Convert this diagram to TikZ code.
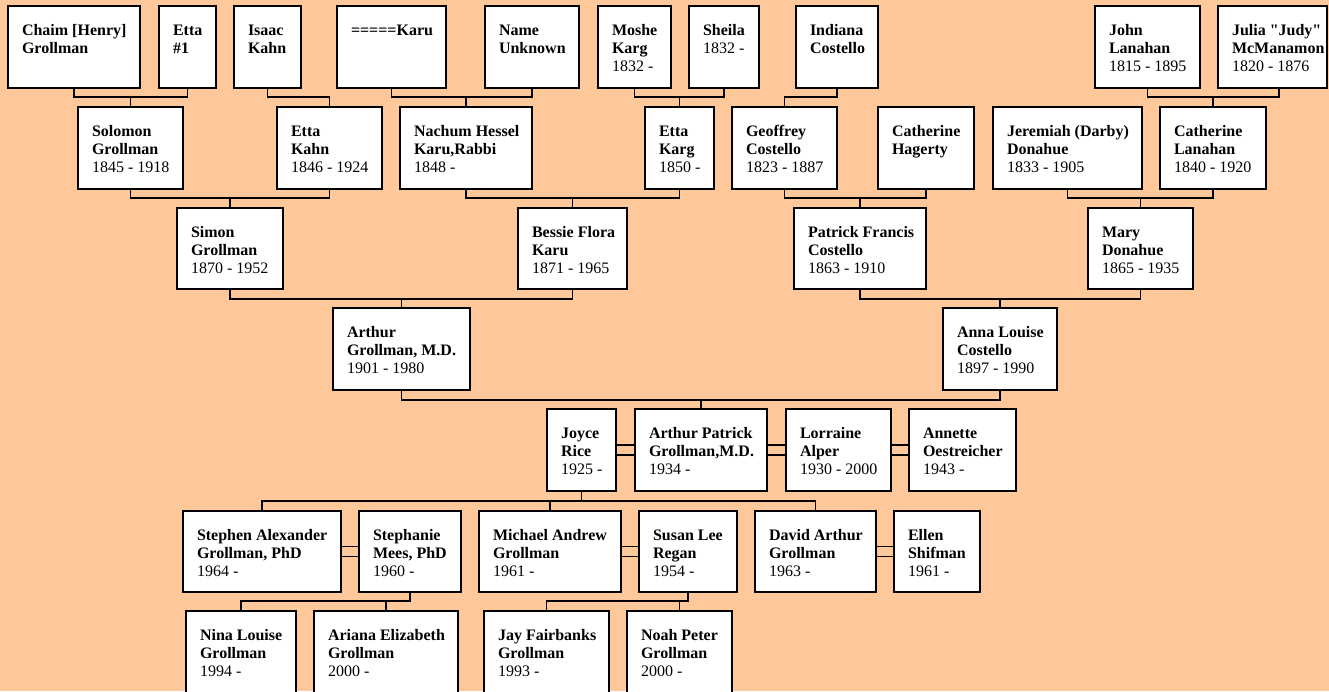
\documentclass[tikz,border=0pt]{standalone}
\usepackage{fontspec}
\setmainfont{Liberation Serif}[Ligatures=TeXOff]
\definecolor{peach}{RGB}{255,200,155}
\tikzset{
  pbox/.style={draw=black, fill=white, line width=2pt, inner sep=0pt, outer sep=0pt},
  ptext/.style={inner sep=0pt, outer sep=0pt, font=\fontsize{16}{18}\selectfont},
  conn/.style={draw=black, line width=1.8pt},
}
\newcommand\ptlines[3]{\vtop{\baselineskip=18pt\hbox{\textbf{#1}}\hbox{\textbf{#2}}\hbox{#3}}}
\newcommand\person[8]{%
  \node[pbox, minimum width={#4-#2}, minimum height={#5-#3}, anchor=north west] (#1) at (#2,#3) {};
  \node[ptext, anchor=base west] (#1-t) at ([xshift=14pt,yshift=-29.5pt]#1.north west) {\ptlines{#6}{#7}{#8}};
}
\begin{document}
\begin{tikzpicture}[x=1pt,y=-1pt]
\useasboundingbox (0,0) rectangle (1329,691);
\fill[peach] (0,0) rectangle (1329,691);
\clip (0,0) rectangle (1329,691);
% generation 1
\person{chaim}{8}{6}{140}{88}{Chaim [Henry]}{Grollman}{}
\person{etta1}{159}{6}{216}{88}{Etta}{\#1}{}
\person{isaac}{234}{6}{301}{88}{Isaac}{Kahn}{}
\person{karu}{337}{6}{446}{88}{=====Karu}{}{}
\person{nameunk}{485}{6}{579}{88}{Name}{Unknown}{}
\person{moshe}{598}{6}{671}{88}{Moshe}{Karg}{1832 -}
\person{sheila}{689}{6}{759}{88}{Sheila}{}{}
\node[ptext, anchor=base west] (sheila-y) at ([xshift=14pt,yshift=-47.5pt]sheila.north west) {1832 -};
\person{indiana}{796}{6}{878}{88}{Indiana}{Costello}{}
\person{john}{1095}{6}{1200}{88}{John}{Lanahan}{1815 - 1895}
\person{julia}{1218}{6}{1327}{88}{Julia "Judy"}{McManamon}{1820 - 1876}
% generation 2
\person{solomon}{78}{107}{183}{189}{Solomon}{Grollman}{1845 - 1918}
\person{ettakahn}{277}{107}{382}{189}{Etta}{Kahn}{1846 - 1924}
\person{nachum}{400}{107}{532}{189}{Nachum Hessel}{Karu,Rabbi}{1848 -}
\person{ettakarg}{645}{107}{714}{189}{Etta}{Karg}{1850 -}
\person{geoffrey}{732}{107}{837}{189}{Geoffrey}{Costello}{1823 - 1887}
\person{hagerty}{878}{107}{974}{189}{Catherine}{Hagerty}{}
\person{jeremiah}{993}{107}{1142}{189}{Jeremiah (Darby)}{Donahue}{1833 - 1905}
\person{cathlan}{1160}{107}{1266}{189}{Catherine}{Lanahan}{1840 - 1920}
% generation 3
\person{simon}{177}{208}{283}{289}{Simon}{Grollman}{1870 - 1952}
\person{bessie}{518}{208}{627}{289}{Bessie Flora}{Karu}{1871 - 1965}
\person{patrick}{794}{208}{926}{289}{Patrick Francis}{Costello}{1863 - 1910}
\person{mary}{1088}{208}{1193}{289}{Mary}{Donahue}{1865 - 1935}
% generation 4
\person{arthur}{333}{308}{470}{390}{Arthur}{Grollman, M.D.}{1901 - 1980}
\person{anna}{943}{308}{1057}{390}{Anna Louise}{Costello}{1897 - 1990}
% generation 5
\person{joyce}{547}{409}{616}{491}{Joyce}{Rice}{1925 -}
\person{arthurp}{635}{409}{767}{491}{Arthur Patrick}{Grollman,M.D.}{1934 -}
\person{lorraine}{786}{409}{891}{491}{Lorraine}{Alper}{1930 - 2000}
\person{annette}{909}{409}{1016}{491}{Annette}{Oestreicher}{1943 -}
% generation 6
\person{stephen}{183}{511}{341}{592}{Stephen Alexander}{Grollman, PhD}{1964 -}
\person{stephanie}{359}{511}{461}{592}{Stephanie}{Mees, PhD}{1960 -}
\person{michael}{479}{511}{621}{592}{Michael Andrew}{Grollman}{1961 -}
\person{susan}{639}{511}{737}{592}{Susan Lee}{Regan}{1954 -}
\person{david}{755}{511}{876}{592}{David Arthur}{Grollman}{1963 -}
\person{ellen}{894}{511}{980}{592}{Ellen}{Shifman}{1961 -}
% generation 7
\person{nina}{186}{611}{296}{705}{Nina Louise}{Grollman}{1994 -}
\person{ariana}{314}{611}{458}{705}{Ariana Elizabeth}{Grollman}{2000 -}
\person{jay}{484}{611}{609}{705}{Jay Fairbanks}{Grollman}{1993 -}
\person{noah}{627}{611}{732}{705}{Noah Peter}{Grollman}{2000 -}
% connectors gen1 -> gen2
\draw[conn] (chaim.south) -- (chaim.south |- 0,97) -- (etta1.south |- 0,97) -- (etta1.south);
\draw[conn] (solomon.north) -- (solomon.north |- 0,97);
\draw[conn] (isaac.south) -- (isaac.south |- 0,97) -- (ettakahn.north |- 0,97) -- (ettakahn.north);
\draw[conn] (karu.south) -- (karu.south |- 0,97) -- (nameunk.south |- 0,97) -- (nameunk.south);
\draw[conn] (nachum.north) -- (nachum.north |- 0,97);
\draw[conn] (moshe.south) -- (moshe.south |- 0,97) -- (sheila.south |- 0,97) -- (sheila.south);
\draw[conn] (ettakarg.north) -- (ettakarg.north |- 0,97);
\draw[conn] (indiana.south) -- (indiana.south |- 0,97) -- (geoffrey.north |- 0,97) -- (geoffrey.north);
\coordinate (juliadrop) at ([xshift=6.5pt]julia.south);
\draw[conn] (john.south) -- (john.south |- 0,97) -- (juliadrop |- 0,97) -- (juliadrop);
\draw[conn] (cathlan.north) -- (cathlan.north |- 0,97);
% gen2 -> gen3
\draw[conn] (solomon.south) -- (solomon.south |- 0,198) -- (ettakahn.south |- 0,198) -- (ettakahn.south);
\draw[conn] (simon.north) -- (simon.north |- 0,198);
\draw[conn] (nachum.south) -- (nachum.south |- 0,198) -- (ettakarg.south |- 0,198) -- (ettakarg.south);
\draw[conn] (bessie.north) -- (bessie.north |- 0,198);
\draw[conn] (geoffrey.south) -- (geoffrey.south |- 0,198) -- (hagerty.south |- 0,198) -- (hagerty.south);
\draw[conn] (patrick.north) -- (patrick.north |- 0,198);
\draw[conn] (jeremiah.south) -- (jeremiah.south |- 0,198) -- (cathlan.south |- 0,198) -- (cathlan.south);
\draw[conn] (mary.north) -- (mary.north |- 0,198);
% gen3 -> gen4
\draw[conn] (simon.south) -- (simon.south |- 0,299) -- (bessie.south |- 0,299) -- (bessie.south);
\draw[conn] (arthur.north) -- (arthur.north |- 0,299);
\draw[conn] (patrick.south) -- (patrick.south |- 0,299) -- (mary.south |- 0,299) -- (mary.south);
\draw[conn] (anna.north) -- (anna.north |- 0,299);
% gen4 -> gen5
\draw[conn] (arthur.south) -- (arthur.south |- 0,400) -- (anna.south |- 0,400) -- (anna.south);
\draw[conn] (arthurp.north) -- (arthurp.north |- 0,400);
% spouses
\foreach \a/\b in {joyce/arthurp, arthurp/lorraine, lorraine/annette, stephen/stephanie, michael/susan, david/ellen}{
  \draw[conn] ([yshift=5pt]\a.east) -- ([yshift=5pt]\b.west);
  \draw[conn] ([yshift=-5pt]\a.east) -- ([yshift=-5pt]\b.west);
}
% gen5 -> gen6
\draw[conn] (joyce.south) -- (joyce.south |- 0,501);
\draw[conn] (stephen.north) -- (stephen.north |- 0,501) -- (david.north |- 0,501) -- (david.north);
\draw[conn] (michael.north) -- (michael.north |- 0,501);
% gen6 -> gen7
\draw[conn] (stephanie.south) -- (stephanie.south |- 0,601) -- (nina.north |- 0,601) -- (nina.north);
\draw[conn] (ariana.north) -- (ariana.north |- 0,601);
\draw[conn] (susan.south) -- (susan.south |- 0,601) -- (jay.north |- 0,601) -- (jay.north);
\draw[conn] (noah.north) -- (noah.north |- 0,601);
\end{tikzpicture}
\end{document}
